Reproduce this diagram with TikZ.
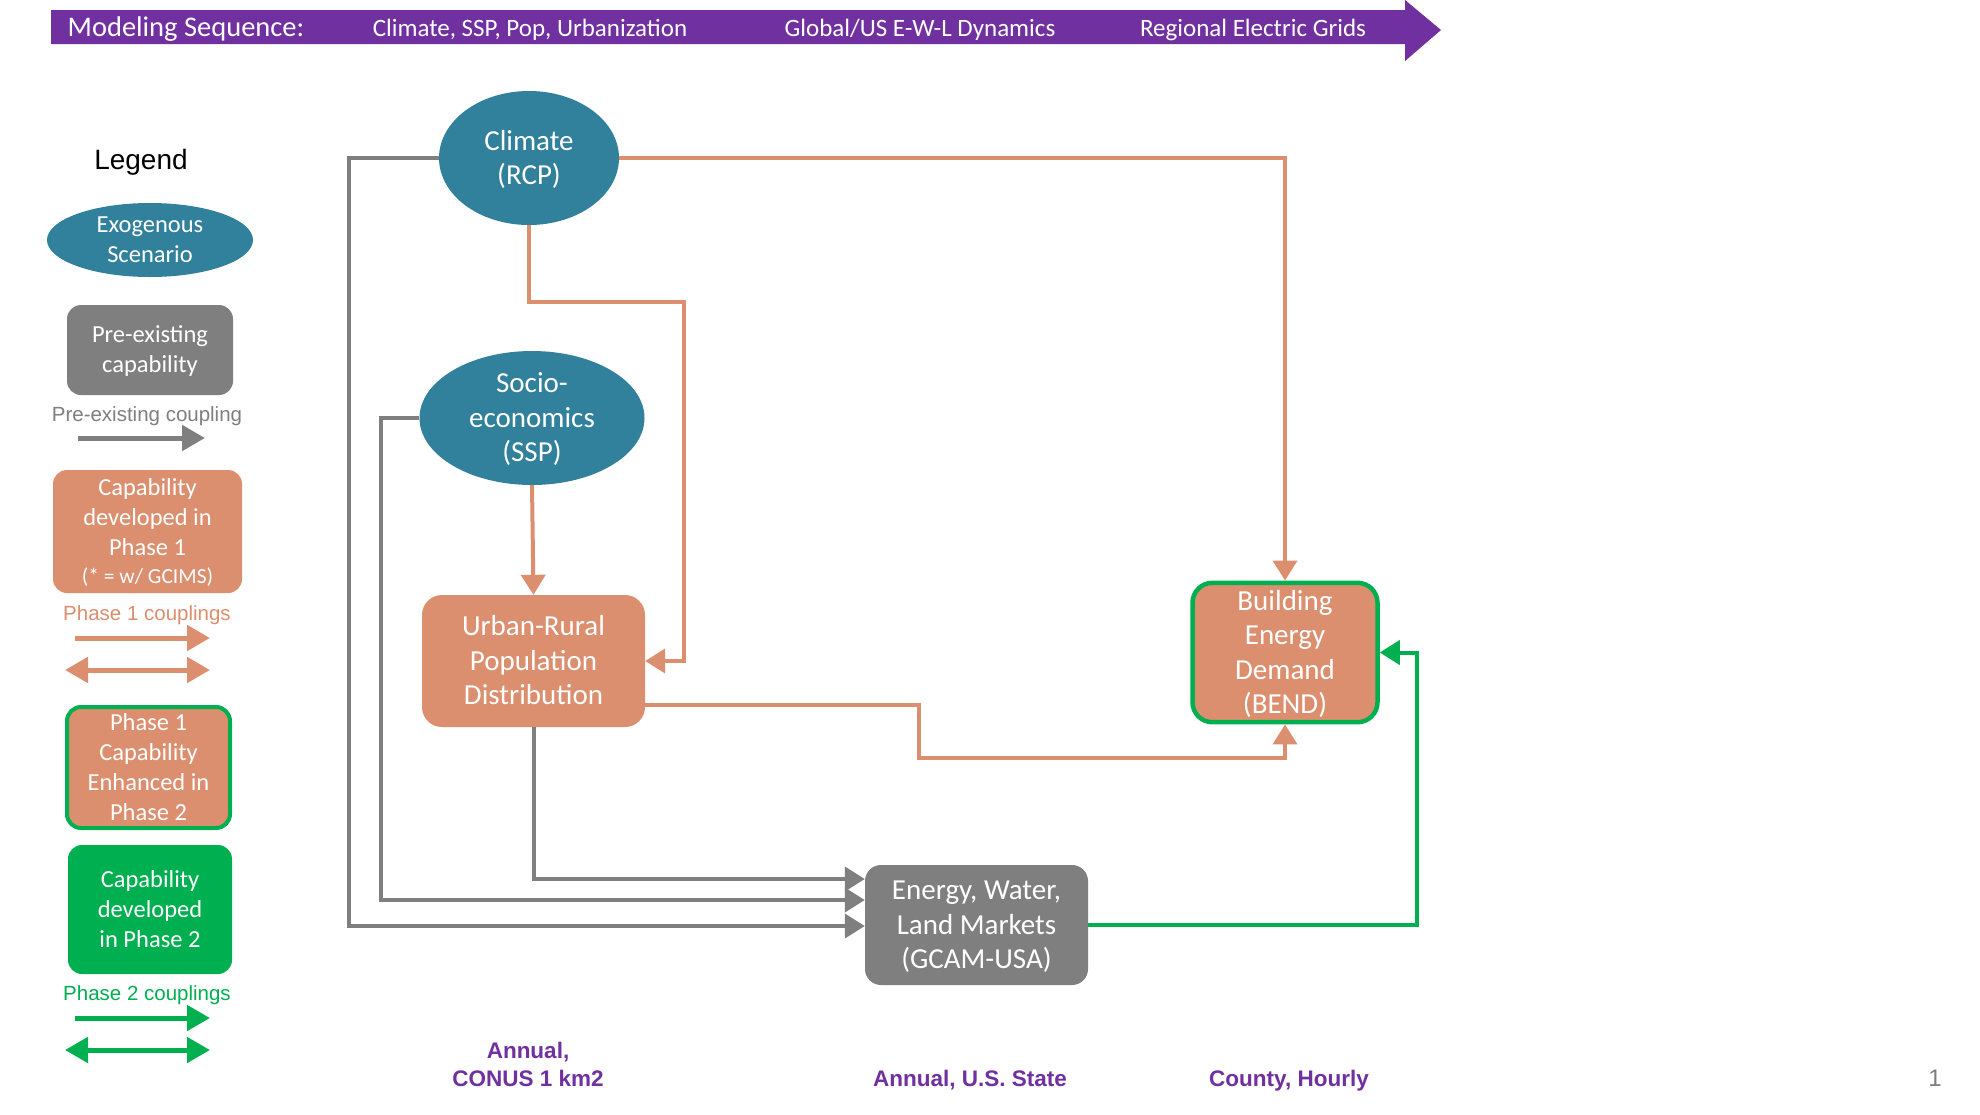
\documentclass[tikz,border=0pt]{standalone}
\usepackage{fontspec}
\setmainfont{Carlito}
\newfontfamily\arialf{Liberation Sans}
\usetikzlibrary{arrows.meta,shapes.geometric,calc}
\definecolor{purp}{HTML}{7030A0}
\definecolor{tealx}{HTML}{31809C}
\definecolor{grayx}{HTML}{7F7F7F}
\definecolor{orangex}{HTML}{DB8F6F}
\definecolor{greenx}{HTML}{00B050}
% struts that centre text optically (cap height) in its node
\newcommand{\mytopstrut}{\rule{0pt}{0.94em}}
\newcommand{\mybotstrut}{\rule[-0.3em]{0pt}{0.3em}}
\newcommand{\myatopstrut}{\rule{0pt}{0.966em}}
\newcommand{\myabotstrut}{\rule[-0.25em]{0pt}{0.25em}}
\begin{document}
\begin{tikzpicture}[x=1pt,y=-1pt,
  exo/.style={ellipse, fill=tealx, text=white, inner xsep=0pt, inner ysep=-20pt, align=center, font=\fontsize{29}{34.5}\selectfont},
  mbox/.style={rounded corners=16pt, inner sep=0pt, align=center, text=white, font=\fontsize{29}{34.5}\selectfont},
  lexo/.style={ellipse, fill=tealx, text=white, inner xsep=0pt, inner ysep=-20pt, align=center, font=\fontsize{24.5}{30}\selectfont},
  lbox/.style={rounded corners=14pt, inner sep=0pt, align=center, text=white, font=\fontsize{24.5}{30}\selectfont},
  conn/.style={line width=4pt, -{Triangle[width=24pt,length=20pt]}},
  lconn/.style={line width=5pt, -{Triangle[width=25pt,length=23pt]}},
  ldconn/.style={line width=5pt, {Triangle[width=25pt,length=23pt]}-{Triangle[width=25pt,length=23pt]}},
  btext/.style={text=white, inner sep=0pt, font=\fontsize{25}{28}\selectfont},
  ltext/.style={inner sep=0pt, font=\arialf\fontsize{20.5}{24}\selectfont},
  scalelabel/.style={text=purp, inner sep=0pt, align=center, font=\arialf\bfseries\fontsize{22.5}{28}\selectfont}
]
\useasboundingbox (0,0) rectangle (1980,1114);
\fill[white] (0,0) rectangle (1980,1114);

% banner
\fill[purp] (51,10) -- (1405,10) -- (1405,0) -- (1441,30) -- (1405,61) -- (1405,44) -- (51,44) -- cycle;
\node[btext, font=\fontsize{28.5}{32}\selectfont] (ms) at (186,27) {\mytopstrut Modeling Sequence:\mybotstrut};
\node[btext] (b1) at (530,28) {\mytopstrut Climate, SSP, Pop, Urbanization\mybotstrut};
\node[btext] (b2) at (920,28) {\mytopstrut Global/US E-W-L Dynamics\mybotstrut};
\node[btext] (b3) at (1253,28) {\mytopstrut Regional Electric Grids\mybotstrut};

% legend
\node[inner sep=0pt, font=\arialf\fontsize{28}{32}\selectfont] (lg) at (141,159) {\myatopstrut Legend\myabotstrut};
\node[lexo, minimum width=206pt, minimum height=74pt] (lexo) at (150,240) {\mytopstrut Exogenous\\Scenario\mybotstrut};
\node[lbox, fill=grayx, minimum width=166pt, minimum height=90pt] (lpre) at (150,350) {\mytopstrut Pre-existing\\capability\mybotstrut};
\node[ltext, text=grayx] (lpret) at (147,414) {\myatopstrut Pre-existing coupling\myabotstrut};
\coordinate (pa1) at (78,438); \coordinate (pa2) at (205,438);
\draw[lconn, grayx] (pa1) -- (pa2);
\node[lbox, fill=orangex, minimum width=189pt, minimum height=123pt] (lp1) at (147.5,531.5) {\mytopstrut Capability\\developed in\\Phase 1\\[-2pt]{\fontsize{21.5}{26}\selectfont (* = w/ GCIMS)\mybotstrut}};
\node[ltext, text=orangex] (lp1t) at (147,613) {\myatopstrut Phase 1 couplings\myabotstrut};
\coordinate (oa1) at (75,638); \coordinate (oa2) at (210,638);
\draw[lconn, orangex] (oa1) -- (oa2);
\coordinate (ob1) at (65,670); \coordinate (ob2) at (210,670);
\draw[ldconn, orangex] (ob1) -- (ob2);
\node[lbox, fill=orangex, draw=greenx, line width=4pt, minimum width=163pt, minimum height=121pt] (lenh) at (148.5,767.5) {\mytopstrut Phase 1\\Capability\\Enhanced in\\Phase 2\mybotstrut};
\node[lbox, fill=greenx, minimum width=164pt, minimum height=129pt] (lp2) at (150,909.5) {\mytopstrut Capability\\developed\\in Phase 2\mybotstrut};
\node[ltext, text=greenx] (lp2t) at (147,993) {\myatopstrut Phase 2 couplings\myabotstrut};
\coordinate (ga1) at (75,1018); \coordinate (ga2) at (210,1018);
\draw[lconn, greenx] (ga1) -- (ga2);
\coordinate (gb1) at (65,1050); \coordinate (gb2) at (210,1050);
\draw[ldconn, greenx] (gb1) -- (gb2);

% main nodes
\node[exo, minimum width=180pt, minimum height=134pt] (clim) at (529,158) {\mytopstrut Climate\\(RCP)\mybotstrut};
\node[exo, minimum width=225pt, minimum height=134pt] (ssp) at (532,418) {\mytopstrut Socio-\\economics\\(SSP)\mybotstrut};
\node[mbox, fill=orangex, minimum width=223pt, minimum height=132pt, rounded corners=20pt] (urban) at (533.5,661) {\mytopstrut Urban-Rural\\Population\\Distribution\mybotstrut};
\node[mbox, fill=grayx, minimum width=223pt, minimum height=120pt] (gcam) at (976.5,925) {\mytopstrut Energy, Water,\\Land Markets\\(GCAM-USA)\mybotstrut};
\node[mbox, fill=orangex, draw=greenx, line width=4.5pt, minimum width=185pt, minimum height=135pt, rounded corners=20pt] (bend) at (1285,652.5) {\mytopstrut Building\\Energy\\Demand\\(BEND)\mybotstrut};

% connectors
\coordinate (k1) at (684,302);
\coordinate (k2) at (919,758);
\draw[conn, orangex] (clim.east) -| (bend.north);
\draw[conn, orangex] (clim.south) |- (k1) |- (urban.east);
\draw[conn, orangex] (ssp.south) -- (urban.north);
\draw[conn, orangex] ($(urban.east)+(0,44)$) -| (k2) -| (bend.south);
\draw[conn, grayx] (urban.south) |- ($(gcam.west)+(0,-46)$);
\draw[conn, grayx] (ssp.west) -- ++(-38,0) |- ($(gcam.west)+(0,-25)$);
\draw[conn, grayx] (clim.west) -- ++(-90,0) |- ($(gcam.west)+(0,1)$);
\draw[conn, greenx] (gcam.east) -- ++(329,0) |- (bend.east);

% bottom scale labels
\node[scalelabel] (s1) at (528,1064) {\myatopstrut Annual,\\CONUS 1 km2\myabotstrut};
\node[scalelabel] (s2) at (970,1078) {\myatopstrut Annual, U.S. State\myabotstrut};
\node[scalelabel] (s3) at (1289,1078) {\myatopstrut County, Hourly\myabotstrut};
\node[inner sep=0pt, text=grayx, font=\arialf\fontsize{24}{28}\selectfont] (pg) at (1935,1078) {\myatopstrut 1\myabotstrut};
\end{tikzpicture}
\end{document}
